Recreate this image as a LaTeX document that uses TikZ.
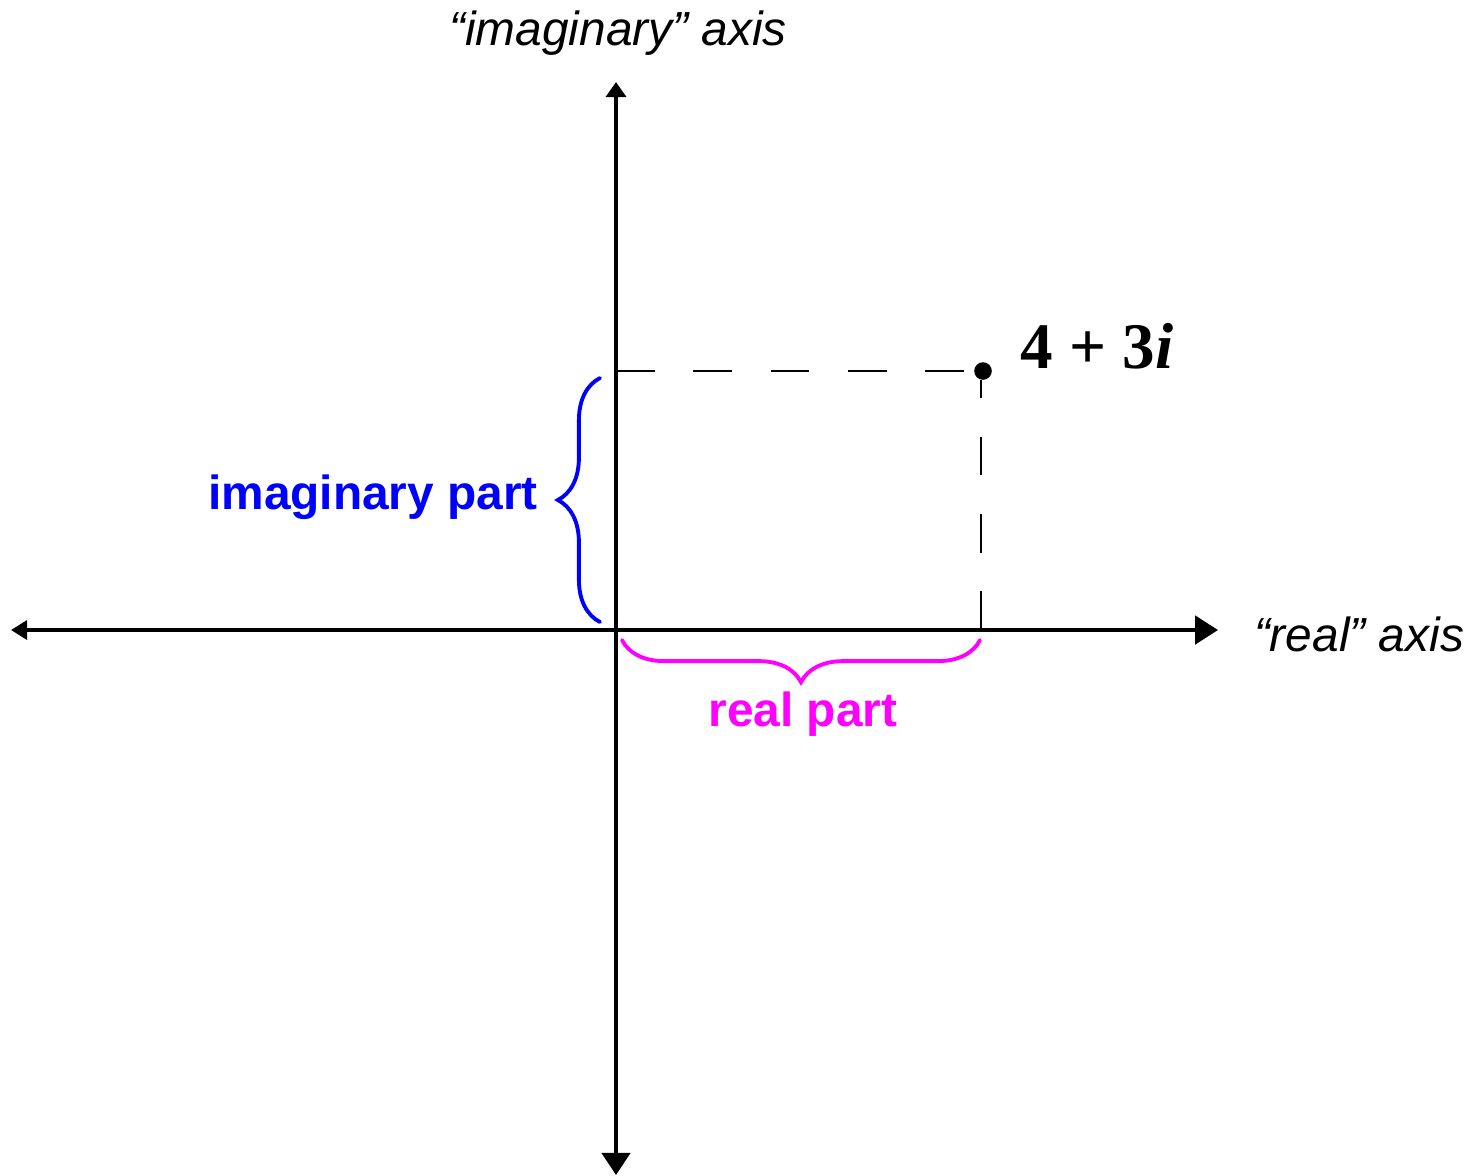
\documentclass[tikz,border=0pt]{standalone}
\usepackage{fontspec}
\setmainfont{Liberation Serif}
\setsansfont{Liberation Sans}
\usetikzlibrary{positioning,arrows.meta,decorations.pathreplacing}
\definecolor{imblue}{RGB}{0,0,255}
\definecolor{remagenta}{RGB}{255,0,255}
\begin{document}
\begin{tikzpicture}[x=0.01cm, y=-0.01cm,
      axis/.style={line width=1.15pt, black},
      guide/.style={line width=0.45pt, black, dash pattern=on 11pt off 11pt},
      partbrace/.style={decorate, decoration={brace, amplitude=12pt},
                        line width=1.1pt, line cap=round},
      axlabel/.style={inner sep=0pt, font=\sffamily\itshape\fontsize{13.6}{16}\selectfont},
      partlabel/.style={inner sep=0pt, font=\sffamily\bfseries\fontsize{13.6}{16}\selectfont}]
      \useasboundingbox (0,0) rectangle (1477,1175);
      % axes
      \coordinate (west)  at (11,630);
      \coordinate (east)  at (1218,630);
      \coordinate (north) at (616,82);
      \coordinate (south) at (616,1175);
      \draw[axis, {Triangle[length=4.6pt,width=5.4pt]}-{Triangle[length=6.5pt,width=8pt]}] (west) -- (east);
      \draw[axis, {Triangle[length=6.3pt,width=8pt]}-{Triangle[length=4.3pt,width=5.7pt]}] (south) -- (north);
      \node[axlabel] (imaxis) at (618,33) {``imaginary'' axis};
      \node[axlabel] (reaxis) at (1359,634) {``real'' axis};
      % the point and its guides
      \coordinate (imfoot) at (616,371);
      \coordinate (refoot) at (981,630);
      \coordinate (ptdrop) at (981,380);
      \node[circle, fill=black, inner sep=0pt, minimum size=5pt] (pt) at (983,371) {};
      \node[inner sep=0pt, font=\bfseries\fontsize{18.5}{20}\selectfont] (num) at (1097,346) {4 + 3\textit{i}};
      \draw[guide] (imfoot) -- (pt.west);
      \draw[guide] (refoot) -- (ptdrop);
      % braces
      \coordinate (imlo) at (600,622);
      \coordinate (imhi) at (600,378);
      \coordinate (relo) at (622,640);
      \coordinate (rehi) at (980,640);
      \draw[partbrace, imblue] (imlo) -- (imhi);
      \draw[partbrace, remagenta] (rehi) -- (relo);
      \node[partlabel, imblue] (impart) at (373,497) {imaginary part};
      \node[partlabel, remagenta] (repart) at (803,714) {real part};
    \end{tikzpicture}
\end{document}
